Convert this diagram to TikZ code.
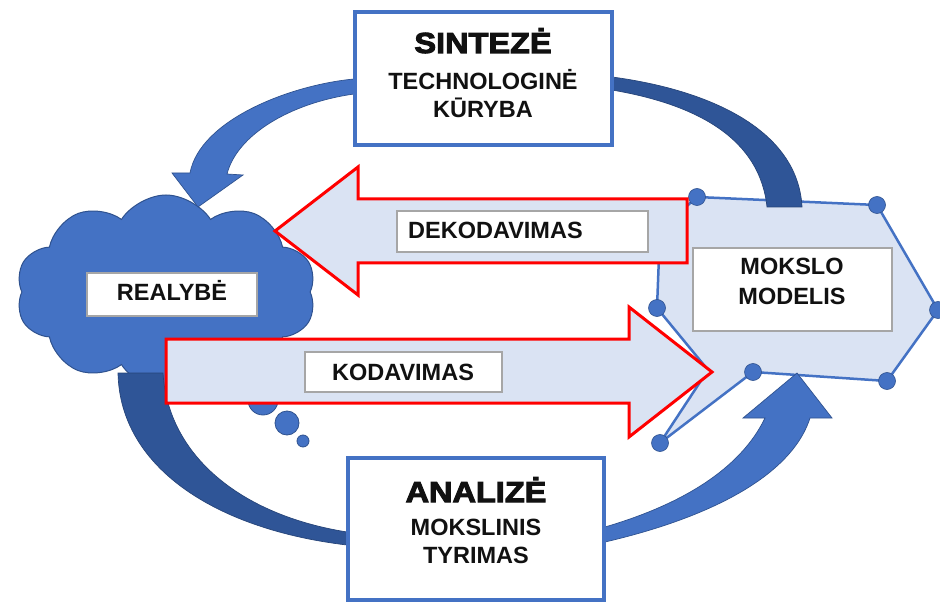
\documentclass[tikz,border=0pt]{standalone}
\usepackage{fontspec}
\setmainfont{Liberation Sans}
\newfontfamily\heavyfont[FakeBold=3.5,FakeStretch=1.12]{Liberation Sans}
\usetikzlibrary{shapes.symbols}
\definecolor{accblue}{HTML}{4472C4}
\definecolor{darkblue}{HTML}{2F5597}
\definecolor{edgeblue}{HTML}{2F528F}
\definecolor{paleblue}{HTML}{DAE3F3}
\definecolor{boxgray}{HTML}{A6A6A6}
\definecolor{txtcol}{HTML}{111111}
\begin{document}
\begin{tikzpicture}[x=1pt,y=-1pt,
  mainbox/.style={draw=accblue, line width=4pt, fill=white, inner sep=0pt},
  labelbox/.style={draw=boxgray, line width=1.5pt, fill=white, inner sep=0pt},
  redarrow/.style={draw=red, line width=3pt, fill=paleblue, line join=miter},
  bandlight/.style={fill=accblue, draw=edgeblue, line width=0.7pt},
  banddark/.style={fill=darkblue, draw=darkblue!80!black, line width=0.7pt},
  vdot/.style={circle, fill=accblue, draw=edgeblue, line width=0.6pt, minimum size=17pt, inner sep=0pt},
  bubble/.style={circle, fill=accblue, draw=edgeblue, line width=0.8pt, inner sep=0pt},
  bigtxt/.style={font=\heavyfont\bfseries\fontsize{29}{32}\selectfont, text=txtcol, inner sep=0pt},
  midtxt/.style={font=\bfseries\fontsize{23.5}{28}\selectfont, text=txtcol, inner sep=0pt}]
\useasboundingbox (0,0) rectangle (940,604);
\fill[white] (0,0) rectangle (940,604);

% polygon (model)
\coordinate (p1) at (697,197);
\coordinate (p2) at (877,205);
\coordinate (p3) at (938,310);
\coordinate (p4) at (887,381);
\coordinate (p5) at (753,372);
\coordinate (p6) at (660,443);
\coordinate (p7) at (708,370);
\coordinate (p8) at (657,308);
\coordinate (p9) at (660,230);
\draw[fill=paleblue, draw=accblue, line width=2.5pt, line join=round]
  (p1) -- (p2) -- (p3) -- (p4) -- (p5) -- (p6) -- (p7) -- (p8) -- (p9) -- cycle;
\foreach \p in {p1,p2,p3,p4,p5,p6,p8} \node[vdot] (d\p) at (\p) {};

% cloud
\node[cloud, cloud puffs=10, cloud puff arc=115, cloud ignores aspect,
      minimum width=300pt, minimum height=194pt, fill=accblue, draw=edgeblue,
      line width=1pt, inner sep=0pt] (realcloud) at (166,292) {};
\node[bubble, minimum size=30pt] (bub1) at (263,400) {};
\node[bubble, minimum size=24pt] (bub2) at (287,423) {};
\node[bubble, minimum size=12pt] (bub3) at (303,441) {};

% curved arrows
\draw[bandlight] (354,79) .. controls (290,85) and (200,120) .. (190,173)
  -- (172,173) -- (198,207) -- (243,175) -- (227,174)
  .. controls (237,135) and (290,103) .. (354,94) -- cycle;
\draw[banddark] (612,77) .. controls (710,90) and (798,130) .. (802,207)
  -- (767,207) .. controls (760,140) and (700,105) .. (612,90) -- cycle;
\draw[banddark] (118,373) .. controls (120,470) and (220,530) .. (347,545)
  -- (347,532) .. controls (240,515) and (168,455) .. (163,373) -- cycle;
\draw[bandlight] (605,542) .. controls (700,520) and (790,480) .. (810,418)
  -- (832,418) -- (797,373) -- (743,418) -- (765,418)
  .. controls (740,470) and (680,505) .. (605,527) -- cycle;

% red arrows
\draw[redarrow] (687,199) -- (358,199) -- (358,167) -- (275,231) -- (358,295)
  -- (358,263) -- (687,263) -- cycle;
\draw[redarrow] (166,339) -- (629,339) -- (629,307) -- (712,372) -- (629,437)
  -- (629,403) -- (166,403) -- cycle;

% label boxes
\node[labelbox, minimum width=170pt, minimum height=43pt] (realbox) at (172,294.5) {};
\node[labelbox, minimum width=251pt, minimum height=41pt] (dekbox) at (522.5,231.5) {};
\node[labelbox, minimum width=197pt, minimum height=40pt] (kodbox) at (403.5,372) {};
\node[labelbox, minimum width=199pt, minimum height=83pt] (modbox) at (792.5,289.5) {};

% main boxes
\node[mainbox, minimum width=257pt, minimum height=133pt] (synbox) at (483.5,78.5) {};
\node[mainbox, minimum width=256pt, minimum height=142pt] (anabox) at (476,529) {};

% texts
\node[bigtxt, anchor=base] (syn1) at (483,53) {SINTEZĖ};
\node[midtxt, anchor=base] (syn2) at (483,90) {TECHNOLOGINĖ};
\node[midtxt, anchor=base] (syn3) at (483,118) {KŪRYBA};
\node[bigtxt, anchor=base] (ana1) at (476,502) {ANALIZĖ};
\node[midtxt, anchor=base] (ana2) at (476,535) {MOKSLINIS};
\node[midtxt, anchor=base] (ana3) at (476,563) {TYRIMAS};
\node[midtxt, anchor=base] (realtxt) at (172,300) {REALYBĖ};
\node[midtxt, anchor=base west] (dektxt) at (408,239) {DEKODAVIMAS};
\node[midtxt, anchor=base] (kodtxt) at (403,380) {KODAVIMAS};
\node[midtxt, anchor=base] (mod1) at (792,275) {MOKSLO};
\node[midtxt, anchor=base] (mod2) at (792,305) {MODELIS};
\end{tikzpicture}
\end{document}
